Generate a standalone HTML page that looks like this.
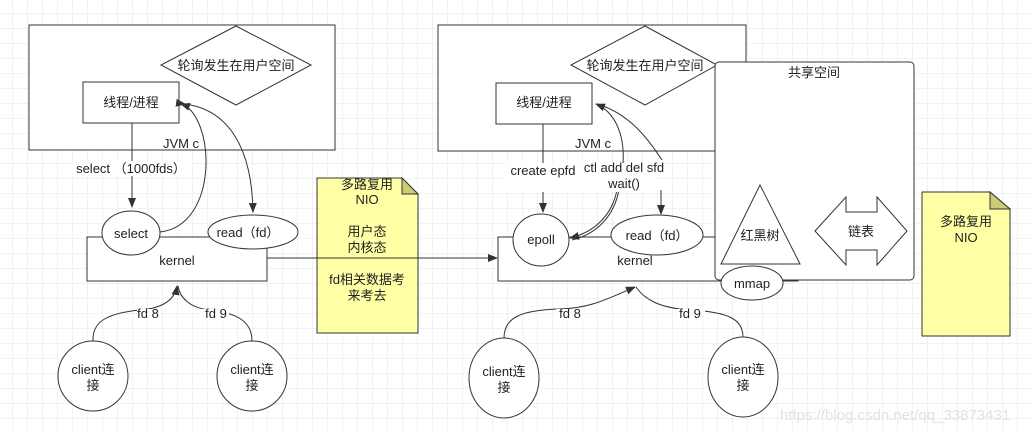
<!DOCTYPE html>
<html><head><meta charset="utf-8"><style>
html,body{margin:0;padding:0;background:#fff}
svg{display:block}
text{font-family:"Liberation Sans","Noto Sans CJK SC",sans-serif;font-size:13px;fill:#222}
</style></head><body>
<svg width="1032" height="431" viewBox="0 0 1032 431" xmlns="http://www.w3.org/2000/svg">
<defs>
<pattern id="g" x="12" y="13" width="15" height="15" patternUnits="userSpaceOnUse">
<path d="M0 0H15M0 0V15" stroke="#e4e4e4" stroke-width="1" fill="none"/>
</pattern>
<marker id="a" markerWidth="10" markerHeight="10" refX="9" refY="5" orient="auto" markerUnits="userSpaceOnUse">
<path d="M0 1L10 5L0 9Z" fill="#333"/>
</marker>
</defs>
<rect width="1032" height="431" fill="#fff"/>
<rect width="1032" height="431" fill="url(#g)"/>
<g stroke="#333" stroke-width="1" fill="#fff">
<!-- LEFT -->
<rect x="29" y="25" width="306" height="125"/>
<polygon points="236,26 311,65 236,105 161,65"/>
<rect x="83" y="82" width="96" height="41"/>
<rect x="87" y="237" width="180" height="44"/>
<ellipse cx="131" cy="233" rx="29" ry="22"/>
<ellipse cx="253" cy="232" rx="45" ry="17"/>
<path d="M317 178H402L418 194V333H317Z" fill="#ffffa6"/>
<path d="M402 178V194H418Z" fill="#cccc77"/>
<circle cx="93" cy="376" r="35"/>
<circle cx="252" cy="376" r="35"/>
<path d="M132 123V207" fill="none" marker-end="url(#a)"/>
<path d="M160 232C220 225 215 115 181 104" fill="none" marker-end="url(#a)"/>
<path d="M185 104C230 110 252 150 253 212" fill="none" marker-end="url(#a)" marker-start="url(#a)"/>
<path d="M93 341C92 320 110 313 140 310C165 308 175 298 177 286" fill="none" marker-end="url(#a)"/>
<path d="M252 341C252 320 235 313 210 310C190 308 180 298 178 286" fill="none"/>
<path d="M267 258H497" fill="none" marker-end="url(#a)"/>
<!-- RIGHT -->
<rect x="438" y="25" width="308" height="126"/>
<polygon points="645,26 717,65 645,105 571,65"/>
<rect x="496" y="83" width="96" height="41"/>
<rect x="498" y="237" width="300" height="44"/>
<path d="M569 237H612" fill="none"/>
<rect x="715" y="62" width="199" height="218" rx="4"/>
<ellipse cx="541" cy="240" rx="28" ry="26"/>
<ellipse cx="657" cy="235" rx="46" ry="20"/>
<ellipse cx="752" cy="283" rx="31" ry="17"/>
<polygon points="760,185 800,264 721,264"/>
<polygon points="815,231 846,197 846,212 877,212 877,197 907,231 877,265 877,250 846,250 846,265"/>
<path d="M922 192H990L1010 209V336H922Z" fill="#ffffa6"/>
<path d="M990 192V209H1010Z" fill="#cccc77"/>
<ellipse cx="504" cy="378" rx="35" ry="40"/>
<ellipse cx="743" cy="377" rx="35" ry="40"/>
<path d="M543 124V212" fill="none" marker-end="url(#a)"/>
<path d="M623 163C625 135 615 112 596 104" fill="none" marker-end="url(#a)"/>
<path d="M617 190C612 215 595 232 570 238" fill="none" marker-end="url(#a)"/>
<path d="M619 190C614 216 597 234 572 240" fill="none"/>
<path d="M597 104C635 115 655 150 662 160" fill="none"/>
<path d="M661 190V214" fill="none" marker-end="url(#a)"/>
<path d="M504 338C504 318 520 310 560 309C590 308 605 300 635 287" fill="none" marker-end="url(#a)"/>
<path d="M743 337C743 320 730 312 690 310C660 308 645 300 636 287" fill="none"/>
</g>
<!-- label backgrounds -->
<g fill="#fff">
<rect x="72" y="161" width="120" height="15"/>
<rect x="137" y="309" width="24" height="12"/>
<rect x="201" y="309" width="28" height="12"/>
<rect x="506" y="163" width="152" height="29"/>
<rect x="556" y="309" width="28" height="12"/>
<rect x="677" y="309" width="28" height="12"/>
</g>
<g text-anchor="middle">
<text x="236" y="70">轮询发生在用户空间</text>
<text x="131" y="107">线程/进程</text>
<text x="181" y="148">JVM  c</text>
<text x="131" y="173">select （1000fds）</text>
<text x="131" y="238">select</text>
<text x="248" y="237">read（fd）</text>
<text x="177" y="265">kernel</text>
<text x="367" y="189">多路复用</text>
<text x="367" y="204">NIO</text>
<text x="367" y="236">用户态</text>
<text x="367" y="252">内核态</text>
<text x="367" y="284">fd相关数据考</text>
<text x="367" y="300">来考去</text>
<text x="148" y="318">fd 8</text>
<text x="216" y="318">fd 9</text>
<text x="93" y="374">client连</text>
<text x="93" y="390">接</text>
<text x="252" y="374">client连</text>
<text x="252" y="390">接</text>

<text x="645" y="70">轮询发生在用户空间</text>
<text x="544" y="107">线程/进程</text>
<text x="593" y="148">JVM  c</text>
<text x="543" y="175">create epfd</text>
<text x="624" y="172">ctl add del sfd</text>
<text x="624" y="188">wait()</text>
<text x="541" y="244">epoll</text>
<text x="657" y="240">read（fd）</text>
<text x="635" y="265">kernel</text>
<text x="814" y="77">共享空间</text>
<text x="760" y="240">红黑树</text>
<text x="861" y="236">链表</text>
<text x="752" y="288">mmap</text>
<text x="966" y="226">多路复用</text>
<text x="966" y="242">NIO</text>
<text x="570" y="318">fd 8</text>
<text x="690" y="318">fd 9</text>
<text x="504" y="376">client连</text>
<text x="504" y="392">接</text>
<text x="743" y="374">client连</text>
<text x="743" y="390">接</text>
</g>
<text x="780" y="420" style="fill:#e2e2e2;font-size:15px">https://blog.csdn.net/qq_33873431</text>
</svg>
</body></html>
